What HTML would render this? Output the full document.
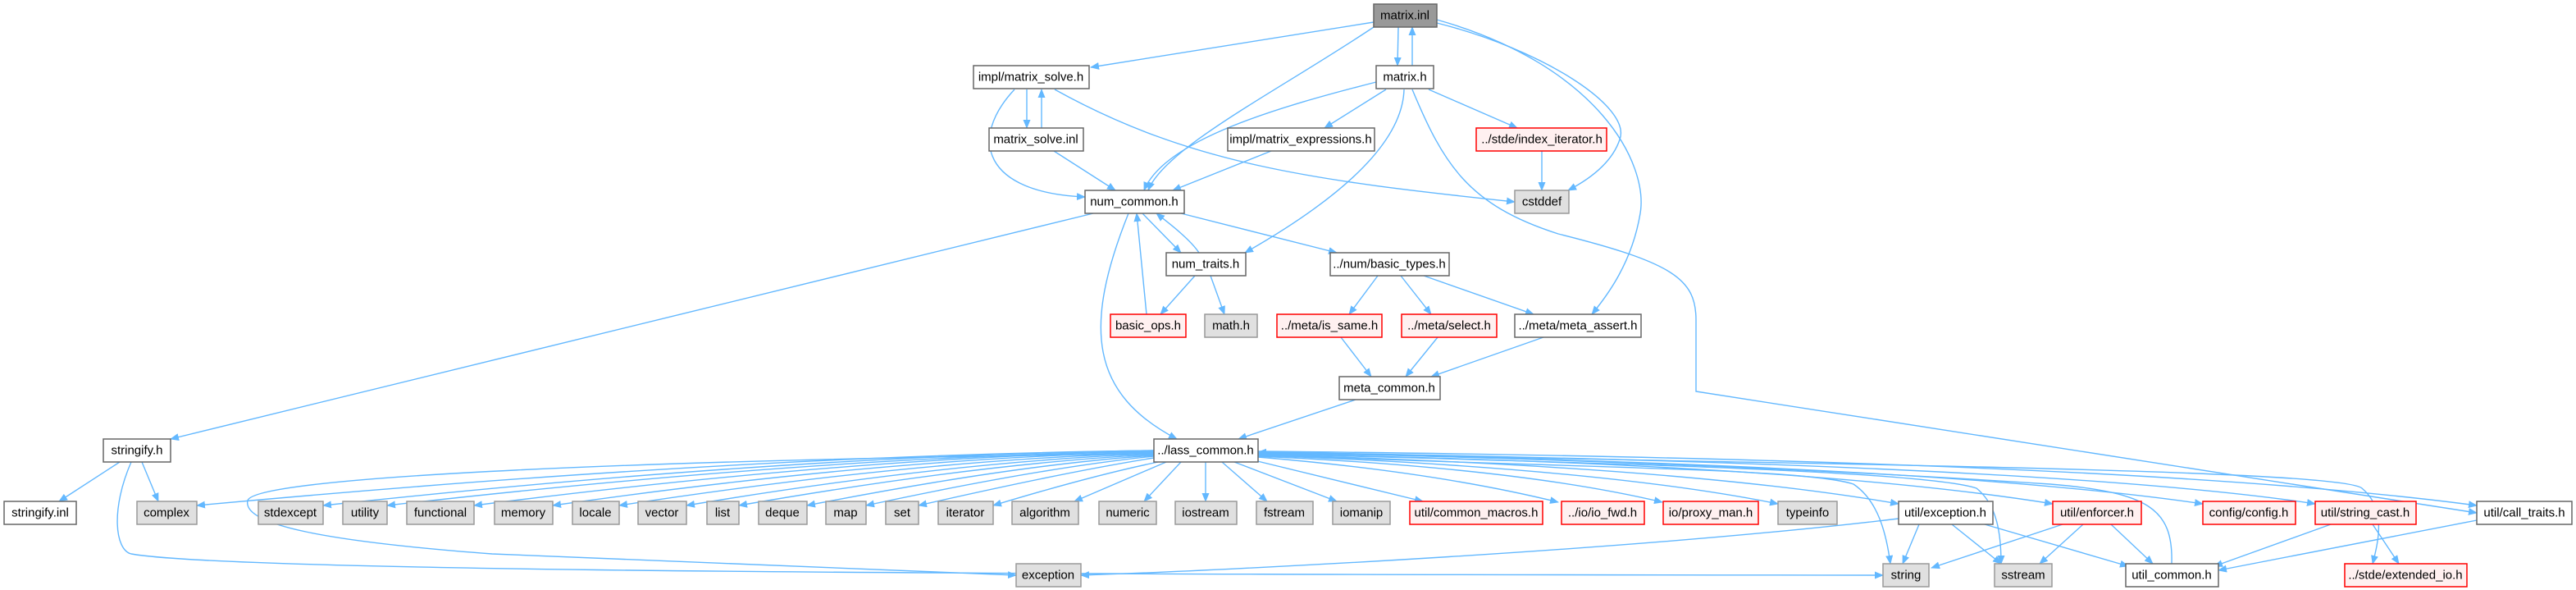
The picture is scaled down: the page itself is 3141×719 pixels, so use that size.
<!DOCTYPE html>
<html><head><meta charset="utf-8"><style>
html,body{margin:0;padding:0;background:#fff;width:3141px;height:719px;overflow:hidden}
svg text{font-family:"Liberation Sans Narrow","Liberation Sans",sans-serif;font-size:15px;fill:#000;text-anchor:middle;dominant-baseline:central}
.e{fill:none;stroke:#63b8ff;stroke-width:1.4;marker-end:url(#a)}
.w{fill:#fff;stroke:#666;stroke-width:1.5}
.g{fill:#e0e0e0;stroke:#999;stroke-width:1.5}
.r{fill:#fff0f0;stroke:#f00;stroke-width:1.5}
.m{fill:#999;stroke:#666;stroke-width:1.5}
</style></head><body>
<svg width="3141" height="719" viewBox="0 0 3141 719" xmlns="http://www.w3.org/2000/svg">
<defs><marker id="a" markerWidth="11" markerHeight="9" refX="10" refY="4.5" orient="auto" markerUnits="userSpaceOnUse"><path d="M0,0 L11,4.5 L0,9z" fill="#63b8ff"/></marker></defs>
<g>
<path class="e" d="M1675,27 L1330,82"/>
<path class="e" d="M1675,33 C1560,110 1420,180 1400,232"/>
<path class="e" d="M1705,33 L1704,80"/>
<path class="e" d="M1722,80 L1722,33"/>
<path class="e" d="M1752,28 C1880,60 1990,130 1975,170 C1965,200 1935,220 1912,232"/>
<path class="e" d="M1752,24 C1950,80 2010,200 2000,260 C1990,320 1960,360 1941,383"/>
<path class="e" d="M1678,100 C1560,130 1420,170 1395,232"/>
<path class="e" d="M1690,109 L1615,156"/>
<path class="e" d="M1742,109 L1850,156"/>
<path class="e" d="M1712,109 C1710,180 1620,250 1518,308"/>
<path class="e" d="M1722,109 C1760,200 1790,250 1900,285 C2040,320 2068,340 2068,390 L2068,477 L3020,625"/>
<path class="e" d="M1252,109 L1252,156"/>
<path class="e" d="M1270,156 L1270,109"/>
<path class="e" d="M1237,109 C1180,170 1200,235 1323,240"/>
<path class="e" d="M1286,109 C1450,200 1600,220 1847,246"/>
<path class="e" d="M1285,184 L1360,232"/>
<path class="e" d="M1550,184 L1430,232"/>
<path class="e" d="M1880,184 L1880,232"/>
<path class="e" d="M1393,260 L1440,308"/>
<path class="e" d="M1462,308 C1450,290 1420,268 1410,260"/>
<path class="e" d="M1440,260 L1630,308"/>
<path class="e" d="M1333,260 L208,535"/>
<path class="e" d="M1376,260 C1320,400 1330,480 1435,535"/>
<path class="e" d="M1398,383 L1386,260"/>
<path class="e" d="M1457,336 L1415,383"/>
<path class="e" d="M1476,336 L1493,383"/>
<path class="e" d="M1680,336 L1645,383"/>
<path class="e" d="M1708,336 L1745,383"/>
<path class="e" d="M1736,336 L1870,383"/>
<path class="e" d="M1635,411 L1672,459"/>
<path class="e" d="M1753,411 L1714,459"/>
<path class="e" d="M1882,411 L1745,459"/>
<path class="e" d="M1653,487 L1510,535"/>
<path class="e" d="M146,563 L72,611"/>
<path class="e" d="M173,563 L193,611"/>
<path class="e" d="M160,563 C135,620 140,670 160,675 C300,700 1500,700 2296,701"/>
<path class="e" d="M1407,553 C800,560 310,580 302,610 C295,640 400,660 600,675 L1239,701"/>
<path class="e" d="M1407,549 Q900,555 240,616"/>
<path class="e" d="M1407,549 Q960,555 394,616"/>
<path class="e" d="M1407,550 Q1000,556 472,616"/>
<path class="e" d="M1407,550 Q1040,557 578,616"/>
<path class="e" d="M1407,551 Q1080,558 674,616"/>
<path class="e" d="M1407,552 Q1120,560 755,616"/>
<path class="e" d="M1407,553 Q1160,562 837,616"/>
<path class="e" d="M1407,554 Q1200,564 901,616"/>
<path class="e" d="M1407,555 Q1240,566 984,616"/>
<path class="e" d="M1407,556 Q1270,570 1056,616"/>
<path class="e" d="M1407,558 Q1300,575 1120,616"/>
<path class="e" d="M1412,563 Q1330,580 1211,616"/>
<path class="e" d="M1422,563 L1310,611"/>
<path class="e" d="M1440,563 L1395,611"/>
<path class="e" d="M1470,563 L1470,611"/>
<path class="e" d="M1490,563 L1545,611"/>
<path class="e" d="M1505,563 L1630,611"/>
<path class="e" d="M1525,560 L1735,611"/>
<path class="e" d="M1534,557 Q1750,575 1900,612"/>
<path class="e" d="M1534,556 Q1850,570 2027,612"/>
<path class="e" d="M1534,555 Q1950,570 2168,614"/>
<path class="e" d="M1534,554 Q2050,568 2315,614"/>
<path class="e" d="M1534,553 Q2200,565 2503,614"/>
<path class="e" d="M1534,552 Q2350,565 2686,614"/>
<path class="e" d="M1534,551 Q2500,565 2823,614"/>
<path class="e" d="M1534,550 Q2600,560 3020,616"/>
<path class="e" d="M1534,554 C1900,570 2200,570 2260,590 C2290,610 2300,650 2305,687"/>
<path class="e" d="M1534,553 C2000,565 2350,575 2410,595 C2435,615 2440,650 2440,687"/>
<path class="e" d="M1534,551 C2100,565 2850,570 2880,595 C2910,620 2900,660 2893,687"/>
<path class="e" d="M2648,687 C2650,620 2620,600 2500,590 C2200,570 1800,556 1534,551"/>
<path class="e" d="M2315,632 C2000,670 1500,695 1318,701"/>
<path class="e" d="M2340,639 L2320,687"/>
<path class="e" d="M2380,639 L2440,687"/>
<path class="e" d="M2420,639 L2595,690"/>
<path class="e" d="M2515,639 L2355,692"/>
<path class="e" d="M2540,639 L2487,687"/>
<path class="e" d="M2574,639 L2625,687"/>
<path class="e" d="M2842,639 L2700,690"/>
<path class="e" d="M2893,639 L2925,687"/>
<path class="e" d="M3020,634 L2705,695"/>
</g>
<g>
<rect class="m" x="1675" y="5" width="77" height="28"/><text x="1713" y="19">matrix.inl</text>
<rect class="w" x="1187" y="80" width="141" height="28"/><text x="1257" y="94">impl/matrix_solve.h</text>
<rect class="w" x="1678" y="80" width="70" height="28"/><text x="1713" y="94">matrix.h</text>
<rect class="w" x="1206" y="156" width="115" height="28"/><text x="1263" y="170">matrix_solve.inl</text>
<rect class="w" x="1497" y="156" width="179" height="28"/><text x="1586" y="170">impl/matrix_expressions.h</text>
<rect class="r" x="1800" y="156" width="159" height="28"/><text x="1880" y="170">../stde/index_iterator.h</text>
<rect class="w" x="1323" y="232" width="121" height="28"/><text x="1383" y="246">num_common.h</text>
<rect class="g" x="1847" y="232" width="66" height="28"/><text x="1880" y="246">cstddef</text>
<rect class="w" x="1422" y="308" width="97" height="28"/><text x="1470" y="322">num_traits.h</text>
<rect class="w" x="1622" y="308" width="145" height="28"/><text x="1694" y="322">../num/basic_types.h</text>
<rect class="r" x="1354" y="383" width="92" height="28"/><text x="1400" y="397">basic_ops.h</text>
<rect class="g" x="1469" y="383" width="64" height="28"/><text x="1501" y="397">math.h</text>
<rect class="r" x="1557" y="383" width="128" height="28"/><text x="1621" y="397">../meta/is_same.h</text>
<rect class="r" x="1709" y="383" width="116" height="28"/><text x="1767" y="397">../meta/select.h</text>
<rect class="w" x="1847" y="383" width="154" height="28"/><text x="1924" y="397">../meta/meta_assert.h</text>
<rect class="w" x="1633" y="459" width="123" height="28"/><text x="1694" y="473">meta_common.h</text>
<rect class="w" x="126" y="535" width="82" height="28"/><text x="167" y="549">stringify.h</text>
<rect class="w" x="1407" y="535" width="127" height="28"/><text x="1470" y="549">../lass_common.h</text>
<rect class="w" x="5" y="611" width="88" height="28"/><text x="49" y="625">stringify.inl</text>
<rect class="g" x="167" y="611" width="73" height="28"/><text x="203" y="625">complex</text>
<rect class="g" x="315" y="611" width="79" height="28"/><text x="354" y="625">stdexcept</text>
<rect class="g" x="418" y="611" width="54" height="28"/><text x="445" y="625">utility</text>
<rect class="g" x="496" y="611" width="82" height="28"/><text x="537" y="625">functional</text>
<rect class="g" x="603" y="611" width="71" height="28"/><text x="638" y="625">memory</text>
<rect class="g" x="698" y="611" width="57" height="28"/><text x="726" y="625">locale</text>
<rect class="g" x="778" y="611" width="59" height="28"/><text x="807" y="625">vector</text>
<rect class="g" x="862" y="611" width="39" height="28"/><text x="881" y="625">list</text>
<rect class="g" x="925" y="611" width="59" height="28"/><text x="954" y="625">deque</text>
<rect class="g" x="1007" y="611" width="49" height="28"/><text x="1031" y="625">map</text>
<rect class="g" x="1080" y="611" width="40" height="28"/><text x="1100" y="625">set</text>
<rect class="g" x="1144" y="611" width="67" height="28"/><text x="1177" y="625">iterator</text>
<rect class="g" x="1234" y="611" width="81" height="28"/><text x="1274" y="625">algorithm</text>
<rect class="g" x="1340" y="611" width="70" height="28"/><text x="1375" y="625">numeric</text>
<rect class="g" x="1433" y="611" width="75" height="28"/><text x="1470" y="625">iostream</text>
<rect class="g" x="1532" y="611" width="69" height="28"/><text x="1566" y="625">fstream</text>
<rect class="g" x="1625" y="611" width="70" height="28"/><text x="1660" y="625">iomanip</text>
<rect class="r" x="1719" y="611" width="162" height="28"/><text x="1800" y="625">util/common_macros.h</text>
<rect class="r" x="1904" y="611" width="101" height="28"/><text x="1954" y="625">../io/io_fwd.h</text>
<rect class="r" x="2028" y="611" width="116" height="28"/><text x="2086" y="625">io/proxy_man.h</text>
<rect class="g" x="2168" y="611" width="72" height="28"/><text x="2204" y="625">typeinfo</text>
<rect class="w" x="2315" y="611" width="115" height="28"/><text x="2372" y="625">util/exception.h</text>
<rect class="r" x="2503" y="611" width="108" height="28"/><text x="2557" y="625">util/enforcer.h</text>
<rect class="r" x="2686" y="611" width="113" height="28"/><text x="2742" y="625">config/config.h</text>
<rect class="r" x="2823" y="611" width="123" height="28"/><text x="2884" y="625">util/string_cast.h</text>
<rect class="w" x="3020" y="611" width="116" height="28"/><text x="3078" y="625">util/call_traits.h</text>
<rect class="g" x="1239" y="687" width="79" height="28"/><text x="1278" y="701">exception</text>
<rect class="g" x="2296" y="687" width="56" height="28"/><text x="2324" y="701">string</text>
<rect class="g" x="2432" y="687" width="70" height="28"/><text x="2467" y="701">sstream</text>
<rect class="w" x="2592" y="687" width="113" height="28"/><text x="2648" y="701">util_common.h</text>
<rect class="r" x="2859" y="687" width="149" height="28"/><text x="2933" y="701">../stde/extended_io.h</text>
</g>
</svg>
</body></html>
